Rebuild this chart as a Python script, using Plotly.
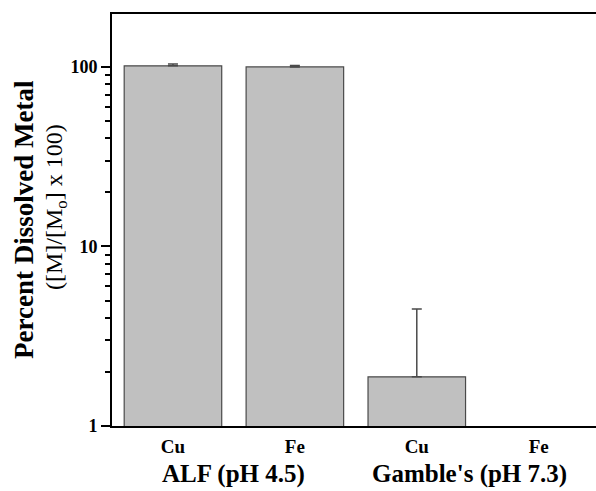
import plotly.graph_objects as go

# Data
positions = [0, 1, 2, 3]
metals = ["Cu", "Fe", "Cu", "Fe"]
values = [101.5, 100.0, 1.88, None]
err_plus = [2.5, 2.0, 2.6, 0]
group_labels = ["ALF (pH 4.5)", "Gamble's (pH 7.3)"]
group_pos = [0.5, 2.43]
y_ticks = [1, 10, 100]
y_minor = [2, 3, 4, 5, 6, 7, 8, 9, 20, 30, 40, 50, 60, 70, 80, 90]

FONT = "Liberation Serif"

fig = go.Figure()
fig.add_trace(go.Bar(
    x=positions, y=values, width=0.8,
    marker=dict(color="#c0c0c0", line=dict(color="#4a4a4a", width=1.2)),
    error_y=dict(type="data", array=err_plus, arrayminus=[0] * 4, symmetric=False,
                 color="#4a4a4a", thickness=1.5, width=5),
    showlegend=False,
))

fig.update_layout(
    width=596, height=491,
    margin=dict(l=112, r=0, t=14, b=65),
    plot_bgcolor="white", paper_bgcolor="white",
    bargap=0.2,
    font=dict(family=FONT, color="black"),
)
fig.update_xaxes(
    range=[-0.5, 3.47], tickvals=positions, ticktext=["<b>%s</b>" % m for m in metals],
    showline=True, linecolor="black", linewidth=2, mirror=True,
    ticks="", showgrid=False, zeroline=False, ticklabelstandoff=2,
    tickfont=dict(family=FONT, size=19, color="black"),
)
fig.update_yaxes(
    type="log", range=[0, 2.295], tickvals=y_ticks, ticktext=["<b>%d</b>" % v for v in y_ticks],
    showline=True, linecolor="black", linewidth=2, mirror=False,
    ticks="outside", ticklen=9, tickwidth=2, tickcolor="black",
    minor=dict(tickvals=y_minor, ticks="outside", ticklen=5, tickwidth=2, tickcolor="black", showgrid=False),
    showgrid=False, zeroline=False,
    tickfont=dict(family=FONT, size=18, color="black"),
)

for lbl, px in zip(group_labels, group_pos):
    fig.add_annotation(x=px, xref="x", y=474, yref="paper", yanchor="middle", xanchor="center",
                       text="<b>%s</b>" % lbl, showarrow=False,
                       font=dict(family=FONT, size=25, color="black"))

fig.add_annotation(x=24, y=220, xref="paper", yref="paper", xanchor="center", yanchor="middle",
                   text="<b>Percent Dissolved Metal</b>",
                   textangle=-90, showarrow=False,
                   font=dict(family=FONT, size=27, color="black"))
fig.add_annotation(x=56, y=207, xref="paper", yref="paper", xanchor="center", yanchor="middle",
                   text="([M]/[M<sub>o</sub>] x 100)",
                   textangle=-90, showarrow=False,
                   font=dict(family=FONT, size=24, color="black"))

# convert pixel placements into paper coords
plot_l, plot_t, plot_w, plot_h = 112, 14, 596 - 112, 491 - 14 - 65
for ann in fig.layout.annotations:
    if ann.yref == "paper":
        ann.y = (plot_t + plot_h - ann.y) / plot_h
    if ann.xref == "paper":
        ann.x = (ann.x - plot_l) / plot_w

fig.write_html("out.html")
